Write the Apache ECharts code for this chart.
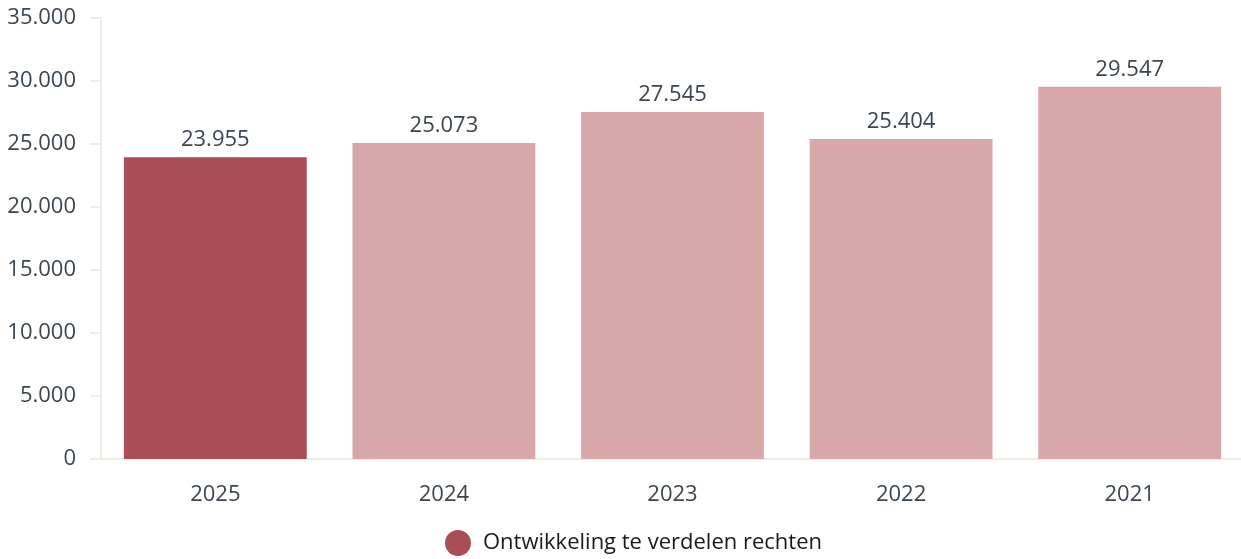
<!DOCTYPE html>
<html>
<head>
<meta charset="utf-8">
<script src="https://cdn.jsdelivr.net/npm/echarts@6/dist/echarts.min.js"></script>
<style>
  html, body { margin: 0; padding: 0; background: #fff; }
  #main { width: 1241px; height: 559px; }
</style>
</head>
<body>
<div id="main"></div>
<script>
// data
var jaren = ['2025', '2024', '2023', '2022', '2021'];
var waarden = [23955, 25073, 27545, 25404, 29547];
var kleuren = ['#aa4e55', '#d7a7aa', '#d7a7aa', '#d7a7aa', '#d7a7aa'];
var serieNaam = 'Ontwikkeling te verdelen rechten';

function fmt(v) {
  return String(v).replace(/\B(?=(\d{3})+(?!\d))/g, '.');
}

var chart = echarts.init(document.getElementById('main'));
var option = {
  animation: false,
  textStyle: { fontFamily: 'Open Sans' },
  grid: {
    left: 101, width: 1143, top: 18, height: 441,
    containLabel: false,
    outerBoundsMode: 'none'
  },
  legend: {
    bottom: -2,
    left: 440,
    icon: 'circle',
    itemWidth: 26,
    itemHeight: 26,
    itemGap: 10,
    textStyle: { fontSize: 22, color: '#1a1a1a', fontFamily: 'Open Sans', padding: [0, 0, 0, 7] },
    data: [serieNaam]
  },
  xAxis: {
    type: 'category',
    data: jaren,
    axisLine: { lineStyle: { color: '#efece4', width: 2 } },
    axisTick: { alignWithLabel: true, length: 10, lineStyle: { color: '#efece4', width: 2 } },
    axisLabel: { color: '#3c4650', fontSize: 22, margin: 25 }
  },
  yAxis: {
    type: 'value',
    min: 0,
    max: 35000,
    interval: 5000,
    axisLine: { show: true, lineStyle: { color: '#efece4', width: 2 } },
    axisTick: { show: true, length: 11, lineStyle: { color: '#efece4', width: 2 } },
    splitLine: { show: false },
    axisLabel: { color: '#3c4650', fontSize: 22, margin: 25, formatter: fmt }
  },
  series: [{
    name: serieNaam,
    type: 'bar',
    barWidth: '80%',
    itemStyle: { color: kleuren[0] },
    label: {
      show: true,
      position: 'top',
      distance: 6,
      color: '#3c4650',
      fontSize: 22,
      formatter: function (p) { return fmt(p.value); }
    },
    data: waarden.map(function (v, i) {
      return { value: v, itemStyle: { color: kleuren[i] } };
    })
  }]
};
chart.setOption(option);
</script>
</body>
</html>
